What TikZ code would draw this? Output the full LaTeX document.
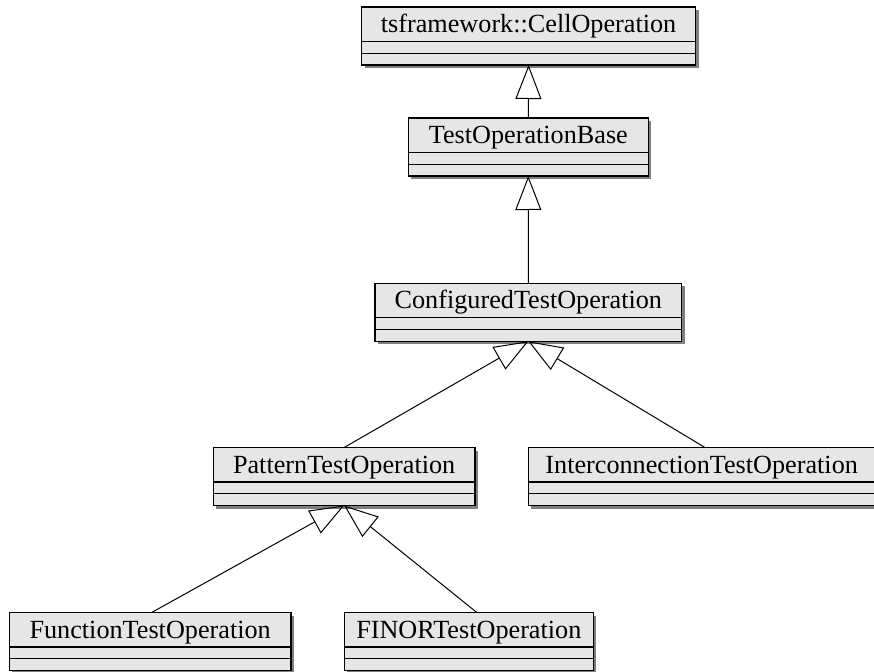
\documentclass[tikz,border=0pt]{standalone}
\usepackage{fontspec}
\setmainfont{Liberation Serif}
\usetikzlibrary{arrows.meta,calc}
\definecolor{boxfill}{HTML}{E6E6E6}
\definecolor{shadowgray}{HTML}{7F7F7F}
\tikzset{
  classbox/.style={rectangle, draw=black, fill=boxfill, line width=1.2pt, minimum height=58pt, inner sep=0pt, outer sep=0pt},
  classshadow/.style={rectangle, fill=shadowgray, draw=none, minimum height=58pt, inner sep=0pt, outer sep=0pt},
  classtitle/.style={font=\fontsize{26.2}{30}\selectfont, anchor=base, inner sep=0pt},
  divider/.style={draw=black, line width=1.2pt},
  inherit/.style={draw=black, line width=1pt, -{Triangle[open, length=34pt, width=26pt]}}
}
\newcommand\umlclass[5]{%
  \node[classshadow, minimum width=#4pt] (#1-sh) at (#2+3,#3+3) {};
  \node[classbox, minimum width=#4pt] (#1) at (#2,#3) {};
  \node[classtitle] (#1-t) at ($(#1.north)+(0,25.5)$) {#5};
  \draw[divider] ($(#1.north west)+(0,34.5)$) -- ($(#1.north east)+(0,34.5)$);
  \draw[divider] ($(#1.north west)+(0,46.3)$) -- ($(#1.north east)+(0,46.3)$);
}
\begin{document}
\begin{tikzpicture}[x=1pt,y=-1pt]
\useasboundingbox (0,0) rectangle (874,671);
\fill[white] (0,0) rectangle (874,671);
\umlclass{b1}{528.6}{36}{333.8}{tsframework::CellOperation}
\umlclass{b2}{528.3}{147}{240}{TestOperationBase}
\umlclass{b3}{528.35}{312.3}{306.7}{ConfiguredTestOperation}
\umlclass{b4}{344.15}{476.5}{261.7}{PatternTestOperation}
\umlclass{b5}{701.65}{476.5}{346.7}{InterconnectionTestOperation}
\umlclass{b6}{150.15}{641.5}{281.7}{FunctionTestOperation}
\umlclass{b7}{468.8}{641.5}{249}{FINORTestOperation}
\draw[inherit] (b2.north) -- (b1.south);
\draw[inherit] (b3.north) -- (b2.south);
\draw[inherit] (b4.north) -- (b3.south);
\draw[inherit] ([xshift=3.3pt]b5.north) -- (b3.south);
\draw[inherit] ([xshift=1.5pt]b6.north) -- (b4.south);
\draw[inherit] ([xshift=8pt]b7.north) -- (b4.south);
\end{tikzpicture}
\end{document}
